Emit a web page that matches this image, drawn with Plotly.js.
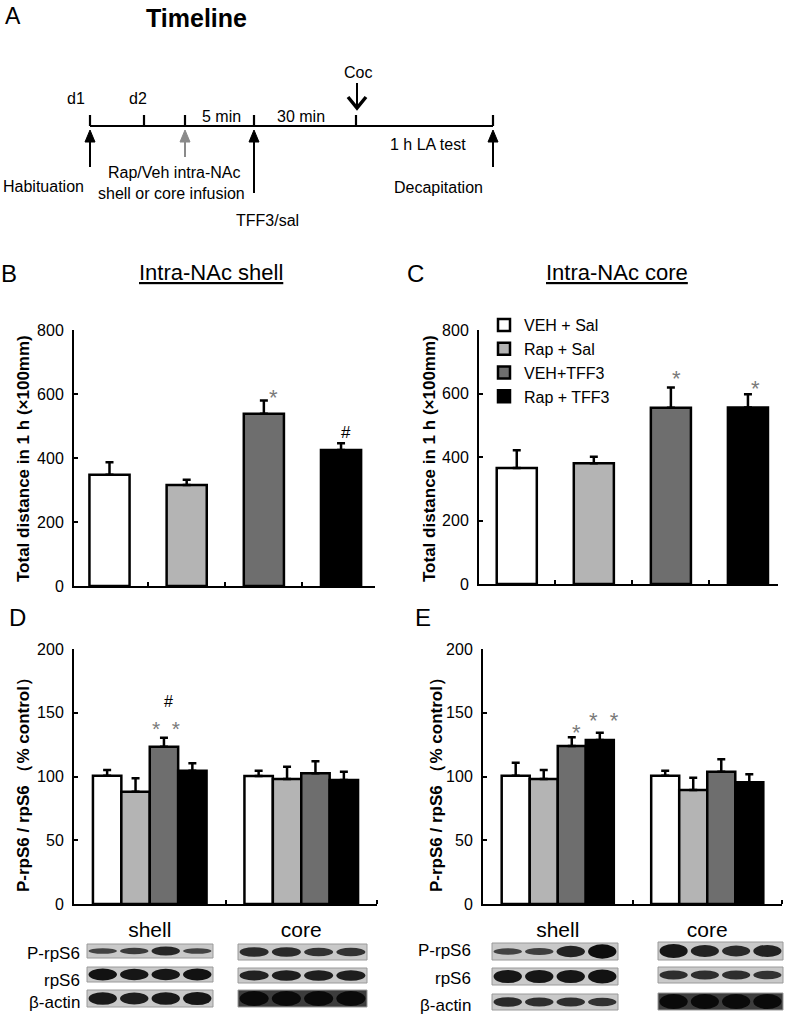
<!DOCTYPE html>
<html>
<head>
<meta charset="utf-8">
<script src="https://cdn.plot.ly/plotly-3.0.1.min.js"></script>
<style>html,body{margin:0;padding:0;background:#fff;}#chart{width:787px;height:1016px;}</style>
</head>
<body>
<div id="chart"></div>
<script>
// ---------- DATA ----------
const groups = ["VEH + Sal", "Rap + Sal", "VEH+TFF3", "Rap + TFF3"];
const groupColors = ["#ffffff", "#b4b4b4", "#6e6e6e", "#000000"];

// Panel B: intra-NAc shell, total distance (x100 mm)
const shellDist = [348, 316, 538, 425];
const shellDistErr = [39, 16, 42, 21];
// Panel C: intra-NAc core
const coreDist = [365, 380, 555, 556];
const coreDistErr = [56, 21, 64, 42];

// Panel D / E: P-rpS6 / rpS6 (% control), regions
const regions = ["shell", "core"];
const dShell = [100.6, 88, 123.4, 104.6];
const dShellErr = [4.4, 10.6, 7, 5.7];
const dCore = [100.4, 98, 102.5, 97.3];
const dCoreErr = [4.2, 9.7, 9.5, 6.5];
const eShell = [100.6, 98, 124, 128.6];
const eShellErr = [10.2, 7, 6.7, 5.8];
const eCore = [100.6, 89.4, 103.8, 95.4];
const eCoreErr = [4, 9.6, 9.7, 6.3];

// Western blot band intensities (0..1), lanes 1-4
const blotRows = ["P-rpS6", "rpS6", "β-actin"];
const dShellBands = [[0.3, 0.4, 0.65, 0.3], [0.9, 0.85, 0.85, 0.9], [0.8, 0.75, 0.8, 0.85]];
const dCoreBands = [[0.6, 0.6, 0.5, 0.5], [0.7, 0.75, 0.75, 0.75], [1, 1, 1, 1]];
const eShellBands = [[0.3, 0.35, 0.7, 0.95], [0.85, 0.85, 0.85, 0.9], [0.6, 0.55, 0.55, 0.5]];
const eCoreBands = [[0.85, 0.7, 0.6, 0.7], [0.55, 0.55, 0.55, 0.5], [1, 1, 1, 1]];

// ---------- LAYOUT HELPERS ----------
const W = 787, H = 1016;
const X = p => p / W;
const Y = p => 1 - p / H;
const FONT = "Arial, 'Liberation Sans', sans-serif";

const traces = [];
const errStyle = (arr) => ({type: "data", symmetric: false, array: arr, arrayminus: arr.map(() => 0),
  color: "#000", thickness: 2.5, width: 4});

traces.push({type: "bar", x: [0, 1, 2, 3], y: shellDist, width: 0.52, xaxis: "x", yaxis: "y",
  marker: {color: groupColors, line: {color: "#000", width: 2.5}}, error_y: errStyle(shellDistErr),
  showlegend: false, hoverinfo: "skip"});
traces.push({type: "bar", x: [0, 1, 2, 3], y: coreDist, width: 0.52, xaxis: "x2", yaxis: "y2",
  marker: {color: groupColors, line: {color: "#000", width: 2.5}}, error_y: errStyle(coreDistErr),
  showlegend: false, hoverinfo: "skip"});

for (let i = 0; i < 4; i++) {
  traces.push({type: "bar", name: groups[i], x: [0, 1], y: [dShell[i], dCore[i]], xaxis: "x3", yaxis: "y3",
    marker: {color: groupColors[i], line: {color: "#000", width: 2.5}},
    error_y: errStyle([dShellErr[i], dCoreErr[i]]), showlegend: true, hoverinfo: "skip"});
}
for (let i = 0; i < 4; i++) {
  traces.push({type: "bar", name: groups[i], x: [0, 1], y: [eShell[i], eCore[i]], xaxis: "x4", yaxis: "y4",
    marker: {color: groupColors[i], line: {color: "#000", width: 2.5}},
    error_y: errStyle([eShellErr[i], eCoreErr[i]]), showlegend: false, hoverinfo: "skip"});
}

const baseAxis = {showline: true, linecolor: "#000", linewidth: 2, showgrid: false, zeroline: false,
  tickcolor: "#000", tickwidth: 2, tickfont: {family: FONT, size: 16, color: "#000"}, fixedrange: true};
const yAx = (dom, rng, vals, anchor) => Object.assign({}, baseAxis, {domain: dom, range: rng, tickvals: vals,
  ticks: "inside", ticklen: 4, anchor: anchor, ticklabelstandoff: 5});
const xAxBar = (dom, rng, anchor) => Object.assign({}, baseAxis, {domain: dom, range: rng,
  tickvals: [0.5, 1.5, 2.5, rng[1]], ticktext: ["", "", "", ""], ticks: "inside", ticklen: 4, anchor: anchor});
const xAxGrp = (dom, anchor) => Object.assign({}, baseAxis, {domain: dom, range: [-0.5, 1.5],
  tickvals: [0, 1], ticktext: regions, ticks: "", tickfont: {family: FONT, size: 21, color: "#000"},
  ticklabelstandoff: 6, anchor: anchor,
  minor: {tickvals: [0.5, 1.5], ticks: "inside", ticklen: 4, tickwidth: 2, tickcolor: "#000", showgrid: false}});

const annotations = [];
const txt = (t, x, y, size, opts) => annotations.push(Object.assign({text: t, x: X(x), y: Y(y), xref: "paper", yref: "paper",
  showarrow: false, xanchor: "center", yanchor: "middle", font: {family: FONT, size: size, color: "#000"}}, opts || {}));

// Panel letters
txt("A", 13, 16, 23);
txt("<b>Timeline</b>", 196, 18, 25);
txt("B", 9, 274, 24);
txt("C", 415, 274, 24);
txt("D", 17, 617, 24);
txt("E", 423, 617, 24);

// Timeline texts
txt("d1", 76, 98, 16);
txt("d2", 138, 98, 16);
txt("5 min", 221, 116, 16);
txt("30 min", 301, 116, 16);
txt("Coc", 358, 73, 16);
txt("1 h LA test", 428, 145, 16);
txt("Habituation", 43, 186, 16);
txt("Rap/Veh intra-NAc", 174, 172, 16);
txt("shell or core infusion", 171, 193, 16);
txt("TFF3/sal", 267, 220, 16);
txt("Decapitation", 438, 187, 16);

// Panel titles (underlined)
txt("Intra-NAc shell", 211, 273, 22, {font: {family: FONT, size: 22, color: "#000", lineposition: "under"}});
txt("Intra-NAc core", 617, 273, 22, {font: {family: FONT, size: 22, color: "#000", lineposition: "under"}});

// Y titles
txt("<b>Total distance in 1 h (×100mm)</b>", 23, 459, 17, {textangle: -90});
txt("<b>Total distance in 1 h (×100mm)</b>", 429, 459, 17, {textangle: -90});
txt("<b>P-rpS6 / rpS6 （% control）</b>", 23, 781, 17, {textangle: -90});
txt("<b>P-rpS6 / rpS6 （% control）</b>", 436, 781, 17, {textangle: -90});

// Significance marks
const grey = {family: FONT, size: 22, color: "#7a7a7a"};
const grey2 = {family: FONT, size: 21, color: "#7a7a7a"};
txt("*", 273, 397, 22, {font: grey});
txt("#", 346, 432, 17);
txt("*", 676, 378, 22, {font: grey});
txt("*", 755, 388, 22, {font: grey});
txt("*  *", 166, 728, 21, {font: grey2});
txt("#", 168, 701, 16);
txt("*", 576, 732, 22, {font: grey});
txt("*  *", 604, 720, 22, {font: grey});

// Blot labels
const blotLabelY = {D: [953, 980, 1002], E: [950, 978, 1005]};
blotRows.forEach((r, i) => {
  txt(r, 82, blotLabelY.D[i], 17, {xanchor: "right"});
  txt(r, 473, blotLabelY.E[i], 17, {xanchor: "right"});
});

// ---------- SHAPES ----------
const shapes = [];
const line = (x0, y0, x1, y1, w, c) => shapes.push({type: "line", xref: "paper", yref: "paper",
  x0: X(x0), y0: Y(y0), x1: X(x1), y1: Y(y1), line: {color: c || "#000", width: w}});
const path = (pts, fill, c, w) => shapes.push({type: "path", xref: "paper", yref: "paper",
  path: "M" + pts.map(p => X(p[0]) + "," + Y(p[1])).join(" L") + (fill ? " Z" : ""),
  fillcolor: fill || "rgba(0,0,0,0)", line: {color: c || "#000", width: w || 0}});

// timeline
line(90, 126, 493, 126, 2.2);
[90, 144, 185, 254, 356, 493].forEach(x => line(x, 115, x, 126, 2.2));
const upArrow = (x, y1, c) => {
  line(x, 138, x, y1, 2, c);
  path([[x - 5, 142], [x, 130], [x + 5, 142]], c, c, 1);
};
upArrow(90, 167, "#000");
upArrow(185, 157, "#8a8a8a");
upArrow(254, 193, "#000");
upArrow(493, 167, "#000");
// Coc arrow (down)
line(357, 83, 357, 107, 2);
path([[348, 97], [357, 108], [366, 97]], null, "#000", 3.5);

// blots
const drawBlot = (x0, x1, rows, bands, darkBg) => {
  rows.forEach((r, ri) => {
    const bg = (darkBg && ri === 2) ? "#3c3c3c" : "#c9c9c9";
    shapes.push({type: "rect", xref: "paper", yref: "paper", x0: X(x0), x1: X(x1), y0: Y(r[0]), y1: Y(r[1]),
      fillcolor: bg, line: {color: "#9a9a9a", width: 1}});
    const lw = (x1 - x0) / 4;
    bands[ri].forEach((v, li) => {
      const cx = x0 + lw * (li + 0.5), cy = (r[0] + r[1]) / 2;
      const hh = 1.5 + v * ((r[1] - r[0]) / 2 - 2.5);
      const g = Math.round(90 - v * 80);
      shapes.push({type: "circle", xref: "paper", yref: "paper", x0: X(cx - lw * 0.45), x1: X(cx + lw * 0.45),
        y0: Y(cy - hh), y1: Y(cy + hh), fillcolor: "rgb(" + g + "," + g + "," + g + ")", line: {width: 0}});
    });
  });
};
drawBlot(87, 213, [[944, 958], [967, 982], [990, 1007]], dShellBands, false);
drawBlot(238, 367, [[944, 960], [968, 983], [990, 1007]], dCoreBands, true);
drawBlot(492, 618, [[943, 960], [968, 985], [994, 1010]], eShellBands, false);
drawBlot(658, 783, [[942, 960], [967, 983], [993, 1010]], eCoreBands, true);

const layout = {
  width: W, height: H, margin: {l: 0, r: 0, t: 0, b: 0},
  paper_bgcolor: "#fff", plot_bgcolor: "rgba(0,0,0,0)",
  font: {family: FONT, color: "#000"},
  barmode: "group", bargap: 0.25, bargroupgap: 0,
  xaxis: xAxBar([X(74), X(375)], [-0.46, 3.44], "y"),
  yaxis: yAx([Y(586), Y(330)], [0, 800], [0, 200, 400, 600, 800], "x"),
  xaxis2: xAxBar([X(479), X(778)], [-0.49, 3.39], "y2"),
  yaxis2: yAx([Y(584), Y(330)], [0, 800], [0, 200, 400, 600, 800], "x2"),
  xaxis3: xAxGrp([X(74), X(377)], "y3"),
  yaxis3: yAx([Y(904), Y(649)], [0, 200], [0, 50, 100, 150, 200], "x3"),
  xaxis4: xAxGrp([X(483), X(782)], "y4"),
  yaxis4: yAx([Y(904), Y(649)], [0, 200], [0, 50, 100, 150, 200], "x4"),
  legend: {x: X(484), y: Y(308), xanchor: "left", yanchor: "top", bgcolor: "rgba(0,0,0,0)",
    font: {family: FONT, size: 16, color: "#000"}, traceorder: "normal", itemwidth: 30, tracegroupgap: 0},
  annotations: annotations,
  shapes: shapes
};

Plotly.newPlot("chart", traces, layout, {staticPlot: true, displayModeBar: false});
</script>
</body>
</html>
